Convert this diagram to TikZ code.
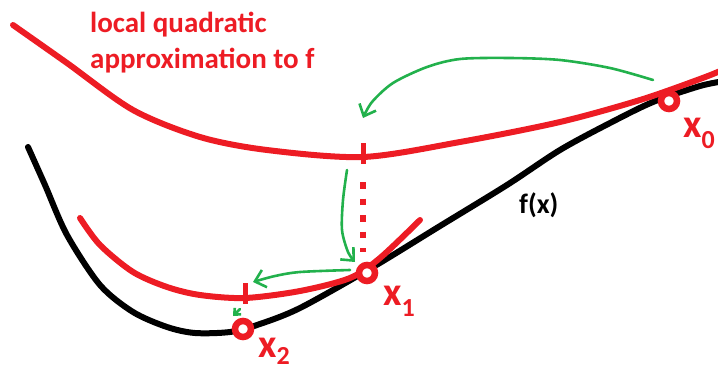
\documentclass[tikz,border=0pt]{standalone}
\usepackage{fontspec}
\setmainfont{Carlito}
\usetikzlibrary{arrows.meta}
\definecolor{paintred}{RGB}{237,28,36}
\definecolor{paintgreen}{RGB}{34,177,76}
\newcommand{\xlab}[2][11pt]{x\raisebox{-#1}{\fontsize{26}{26}\selectfont #2}}

\begin{document}
\begin{tikzpicture}[
    x=1pt, y=-1pt,
    curve/.style={draw=black, line width=6pt, line cap=round, line join=round},
    approx/.style={curve, draw=paintred},
    point/.style={circle, draw=paintred, fill=white, line width=6.5pt, minimum size=16pt, inner sep=0pt},
    ptlabel/.style={text=paintred, font=\fontsize{40}{40}\selectfont\bfseries, inner sep=0pt, anchor=base west},
    marker/.style={draw=paintred, line width=5pt},
    dots/.style={marker, line width=6pt, dash pattern=on 6.5pt off 10pt},
    move/.style={draw=paintgreen, line width=2.6pt, line cap=round, line join=round, -{Straight Barb[length=10pt,width=18pt]}},
    >=Stealth
]
\useasboundingbox (0,0) rectangle (718,370);

% f(x)
\draw[curve] plot[smooth] coordinates {(28,147) (45,185) (67,235) (100,285) (133,312) (167,327) (195,333) (230,332) (257,325) (300,308) (373,267) (440,226) (507,185) (560,150) (610,123) (653,102) (700,86) (725,81)};
% quadratic at x0
\draw[approx] plot[smooth] coordinates {(13,25) (67,63) (133,110) (200,137) (267,150) (363,157) (460,142) (560,122) (640,100) (700,79) (725,69)};
% quadratic at x1
\draw[approx] plot[smooth] coordinates {(80,218) (100,245) (133,272) (167,287) (200,295) (245,298) (300,291) (350,278) (380,258) (420,220)};

\coordinate (t1) at (363,153);
\coordinate (t2) at (245,293);
\draw[marker] (t1) ++(0,-10) -- ++(0,21);
\draw[marker] (t2) ++(0,-10) -- ++(0,21);

\node[point] (x0) at (669,101) {};
\node[point] (x1) at (367,273) {};
\node[point] (x2) at (243,329) {};

\draw[dots, shorten <=29pt, shorten >=21pt] (t1) -- (t1 |- x1);

\node[ptlabel] (l0) at (683,137) {\xlab{0}};
\node[ptlabel] (l1) at (383,305) {\xlab{1}};
\node[ptlabel] (l2) at (258,357) {\xlab[7pt]{2}};
\node[font=\fontsize{28}{28}\selectfont\bfseries, inner sep=0pt, anchor=base west] (fx) at (519,213) {f(x)};
\node[text=paintred, font=\fontsize{29}{36}\selectfont\bfseries, inner sep=0pt, anchor=north west, align=left] (title) at (90,12) {local quadratic\\approximation to f};

% steps
\coordinate (s1) at (653,80);
\coordinate (e1) at (363,118);
\coordinate (s2) at (347,170);
\coordinate (e2) at (355,262);
\coordinate (s3) at (350,270);
\coordinate (e3) at (253,282);
\coordinate (s4) at (240,309);
\coordinate (e4) at (233,316);
\draw[move] plot[smooth] coordinates {(s1) (610,68) (560,60) (510,58) (460,59) (427,67) (393,83) (372,102) (e1)};
\draw[move] plot[smooth] coordinates {(s2) (343,200) (342,230) (348,252) (e2)};
\draw[move] plot[smooth] coordinates {(s3) (300,272) (275,276) (e3)};
\draw[move, -{Straight Barb[length=5pt,width=9pt]}] (s4) -- (e4);
\end{tikzpicture}
\end{document}
